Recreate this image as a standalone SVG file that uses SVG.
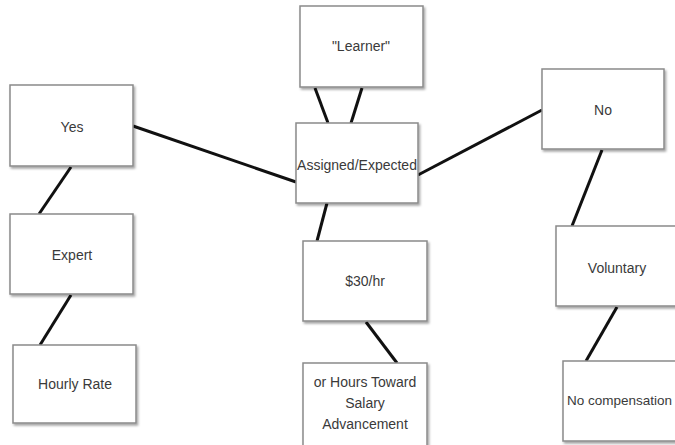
<svg xmlns="http://www.w3.org/2000/svg" width="675" height="445" viewBox="0 0 675 445">
<defs>
<filter id="sh" x="-10%" y="-10%" width="125%" height="130%">
<feDropShadow dx="1.5" dy="2" stdDeviation="1.2" flood-color="#000" flood-opacity="0.35"/>
</filter>
</defs>
<style>
.box{fill:#fff;stroke:#8a8a8a;stroke-width:1.5;filter:url(#sh)}
.lbl{font-family:"Liberation Sans",Arial,sans-serif;font-size:14px;fill:#3a3a3a;text-anchor:middle}
.ln{stroke:#111;stroke-width:3;fill:none}
</style>
<rect width="675" height="445" fill="#fff"/>
<g id="connectors">
<line class="ln" x1="315" y1="88" x2="328" y2="123"/>
<line class="ln" x1="362" y1="88" x2="351" y2="123"/>
<line class="ln" x1="133" y1="126" x2="296" y2="182"/>
<line class="ln" x1="418" y1="175" x2="542" y2="110"/>
<line class="ln" x1="327" y1="203" x2="317" y2="241"/>
<line class="ln" x1="71" y1="167" x2="39" y2="214"/>
<line class="ln" x1="71" y1="295" x2="40" y2="345"/>
<line class="ln" x1="602" y1="150" x2="572" y2="226"/>
<line class="ln" x1="617" y1="307" x2="586" y2="361"/>
<line class="ln" x1="366" y1="322" x2="397" y2="363"/>
</g>
<g id="learner">
<rect class="box" x="300" y="6" width="123" height="81"/>
<text class="lbl" x="361" y="51">"Learner"</text>
</g>
<g id="assigned">
<rect class="box" x="296" y="123" width="122" height="80"/>
<text class="lbl" x="357" y="170">Assigned/Expected</text>
</g>
<g id="yes">
<rect class="box" x="10" y="85" width="123" height="81"/>
<text class="lbl" x="72" y="132">Yes</text>
</g>
<g id="expert">
<rect class="box" x="10" y="214" width="123" height="80"/>
<text class="lbl" x="72" y="260">Expert</text>
</g>
<g id="hourly">
<rect class="box" x="13" y="345" width="123" height="78"/>
<text class="lbl" x="75" y="389">Hourly Rate</text>
</g>
<g id="no">
<rect class="box" x="542" y="69" width="122" height="80"/>
<text class="lbl" x="603" y="115">No</text>
</g>
<g id="voluntary">
<rect class="box" x="556" y="226" width="124" height="80"/>
<text class="lbl" x="617" y="273">Voluntary</text>
</g>
<g id="nocomp">
<rect class="box" x="563" y="361" width="124" height="80"/>
<text class="lbl" x="567" y="405" style="text-anchor:start;font-size:13.5px">No compensation</text>
</g>
<g id="rate30">
<rect class="box" x="303" y="241" width="124" height="80"/>
<text class="lbl" x="365" y="286">$30/hr</text>
</g>
<g id="hours">
<rect class="box" x="303" y="363" width="124" height="84"/>
<text class="lbl" x="365" y="387">or Hours Toward</text>
<text class="lbl" x="365" y="408">Salary</text>
<text class="lbl" x="365" y="429">Advancement</text>
</g>
</svg>
